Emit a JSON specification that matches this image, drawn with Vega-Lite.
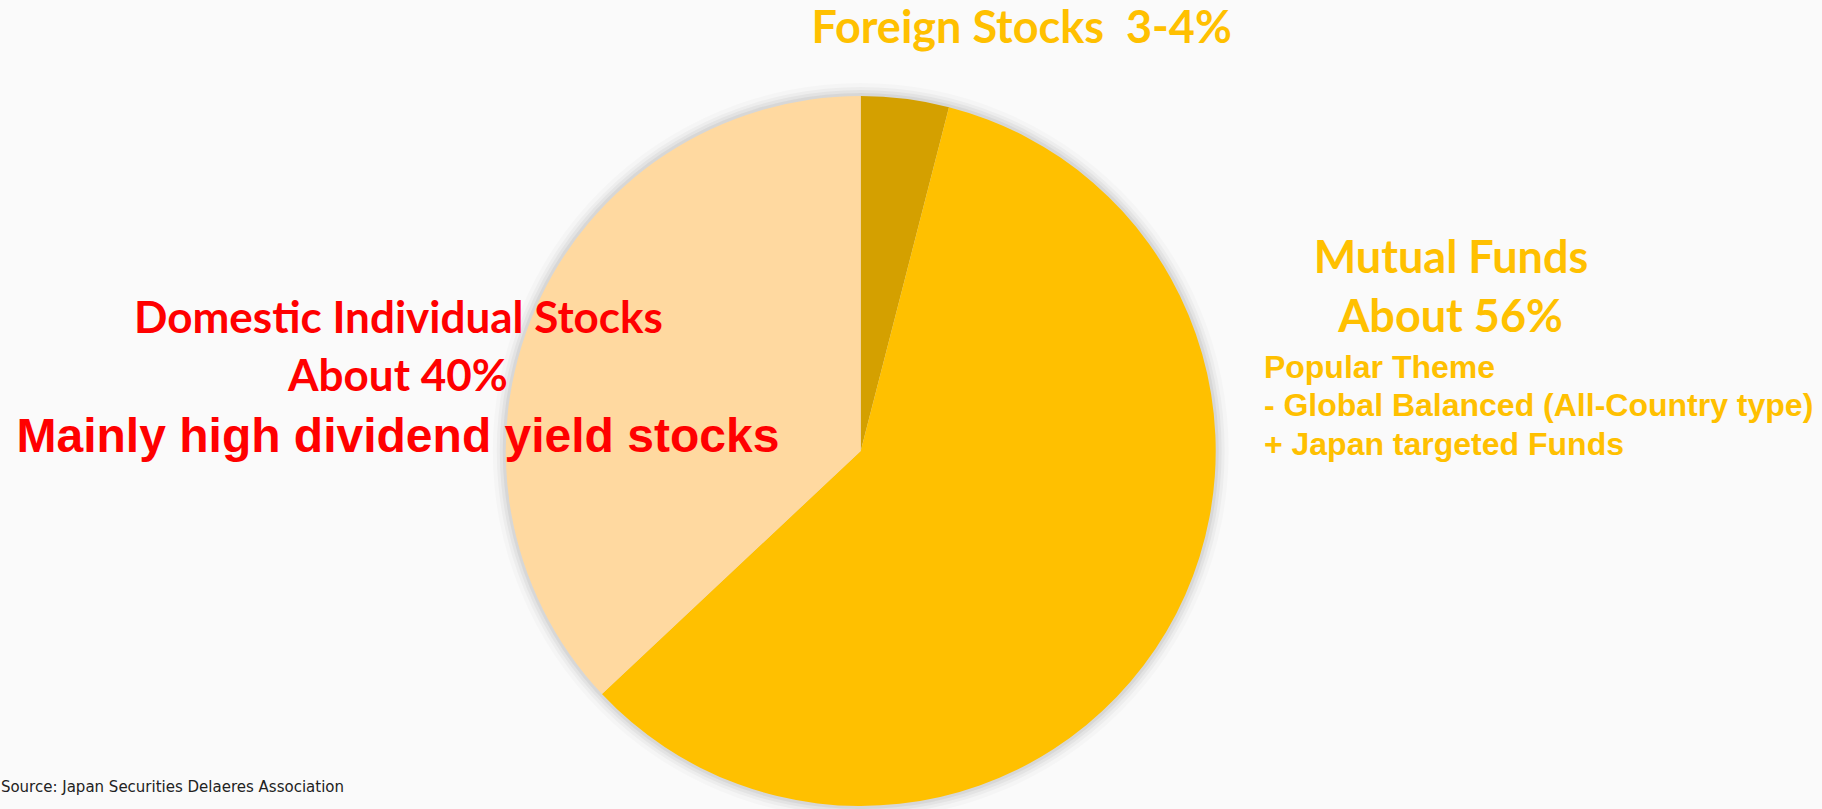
{
  "$schema": "https://vega.github.io/schema/vega-lite/v6.json",
  "width": 1822,
  "height": 809,
  "autosize": {"type": "none"},
  "padding": 0,
  "background": "#FAFAFA",
  "config": {"view": {"stroke": null}},
  "datasets": {
    "slices": [
      {"category": "Foreign Stocks", "share": 4.0, "order": 1},
      {"category": "Mutual Funds", "share": 59.0, "order": 2},
      {"category": "Domestic Individual Stocks", "share": 37.0, "order": 3}
    ],
    "labels": [
      {"block": "foreign", "kind": "title", "text": "Foreign Stocks\u00a0 3-4%", "x": 56.07, "y": 5.35},
      {"block": "mutual", "kind": "title", "text": "Mutual Funds", "x": 79.64, "y": 33.78},
      {"block": "mutual", "kind": "title", "text": "About 56%", "x": 79.61, "y": 41.0},
      {"block": "domestic", "kind": "title", "text": "Domestic Individual Stocks", "x": 21.87, "y": 41.2},
      {"block": "domestic", "kind": "title", "text": "About 40%", "x": 21.84, "y": 48.33},
      {"block": "mutual", "kind": "note", "text": "Popular Theme", "x": 69.37, "y": 46.76},
      {"block": "mutual", "kind": "note", "text": "- Global Balanced (All-Country type)", "x": 69.37, "y": 51.42},
      {"block": "mutual", "kind": "note", "text": "+ Japan targeted Funds", "x": 69.37, "y": 56.24},
      {"block": "domestic", "kind": "note", "text": "Mainly high dividend yield stocks", "x": 21.84, "y": 55.83},
      {"block": "source", "kind": "source", "text": "Source: Japan Securities Delaeres Association", "x": 0.05, "y": 97.86}
    ]
  },
  "layer": [
    {
      "data": {"name": "slices"},
      "transform": [{"aggregate": [{"op": "sum", "field": "share", "as": "total"}]}],
      "mark": {"type": "arc", "radius": 368, "color": "#000000", "opacity": 0.02},
      "encoding": {
        "theta": {"field": "total", "type": "quantitative"},
        "x": {"datum": 47.24, "type": "quantitative", "scale": {"domain": [0, 100], "nice": false, "zero": false}, "axis": null},
        "y": {"datum": 55.75, "type": "quantitative", "scale": {"domain": [0, 100], "nice": false, "zero": false, "reverse": true}, "axis": null}
      }
    },
    {
      "data": {"name": "slices"},
      "transform": [{"aggregate": [{"op": "sum", "field": "share", "as": "total"}]}],
      "mark": {"type": "arc", "radius": 364, "color": "#000000", "opacity": 0.03},
      "encoding": {
        "theta": {"field": "total", "type": "quantitative"},
        "x": {"datum": 47.24, "type": "quantitative"},
        "y": {"datum": 55.75, "type": "quantitative"}
      }
    },
    {
      "data": {"name": "slices"},
      "transform": [{"aggregate": [{"op": "sum", "field": "share", "as": "total"}]}],
      "mark": {"type": "arc", "radius": 361, "color": "#000000", "opacity": 0.04},
      "encoding": {
        "theta": {"field": "total", "type": "quantitative"},
        "x": {"datum": 47.24, "type": "quantitative"},
        "y": {"datum": 55.75, "type": "quantitative"}
      }
    },
    {
      "data": {"name": "slices"},
      "transform": [{"aggregate": [{"op": "sum", "field": "share", "as": "total"}]}],
      "mark": {"type": "arc", "radius": 358, "color": "#000000", "opacity": 0.05},
      "encoding": {
        "theta": {"field": "total", "type": "quantitative"},
        "x": {"datum": 47.24, "type": "quantitative"},
        "y": {"datum": 55.75, "type": "quantitative"}
      }
    },
    {
      "data": {"name": "slices"},
      "mark": {"type": "arc", "radius": 355},
      "encoding": {
        "theta": {"field": "share", "type": "quantitative", "stack": true},
        "order": {"field": "order", "type": "quantitative"},
        "color": {
          "field": "category",
          "type": "nominal",
          "scale": {
            "domain": ["Foreign Stocks", "Mutual Funds", "Domestic Individual Stocks"],
            "range": ["#D4A000", "#FFC000", "#FFD9A0"]
          },
          "legend": null
        },
        "x": {"datum": 47.24, "type": "quantitative"},
        "y": {"datum": 55.75, "type": "quantitative"}
      }
    },
    {
      "data": {"name": "labels"},
      "transform": [{"filter": "datum.kind === 'title' && datum.block !== 'domestic'"}],
      "mark": {"type": "text", "font": "Lato", "fontWeight": "bold", "fontSize": 45, "color": "#FFC000", "align": "center", "baseline": "alphabetic"},
      "encoding": {
        "x": {"field": "x", "type": "quantitative"},
        "y": {"field": "y", "type": "quantitative"},
        "text": {"field": "text"}
      }
    },
    {
      "data": {"name": "labels"},
      "transform": [{"filter": "datum.kind === 'title' && datum.block === 'domestic'"}],
      "mark": {"type": "text", "font": "Lato", "fontWeight": "bold", "fontSize": 44, "color": "#FF0000", "align": "center", "baseline": "alphabetic"},
      "encoding": {
        "x": {"field": "x", "type": "quantitative"},
        "y": {"field": "y", "type": "quantitative"},
        "text": {"field": "text"}
      }
    },
    {
      "data": {"name": "labels"},
      "transform": [{"filter": "datum.kind === 'note' && datum.block === 'mutual'"}],
      "mark": {"type": "text", "font": "Liberation Sans", "fontWeight": "bold", "fontSize": 32, "color": "#FFC000", "align": "left", "baseline": "alphabetic"},
      "encoding": {
        "x": {"field": "x", "type": "quantitative"},
        "y": {"field": "y", "type": "quantitative"},
        "text": {"field": "text"}
      }
    },
    {
      "data": {"name": "labels"},
      "transform": [{"filter": "datum.kind === 'note' && datum.block === 'domestic'"}],
      "mark": {"type": "text", "font": "Liberation Sans", "fontWeight": "bold", "fontSize": 48, "color": "#FF0000", "align": "center", "baseline": "alphabetic"},
      "encoding": {
        "x": {"field": "x", "type": "quantitative"},
        "y": {"field": "y", "type": "quantitative"},
        "text": {"field": "text"}
      }
    },
    {
      "data": {"name": "labels"},
      "transform": [{"filter": "datum.kind === 'source'"}],
      "mark": {"type": "text", "font": "DejaVu Sans", "fontSize": 15, "color": "#222222", "align": "left", "baseline": "alphabetic"},
      "encoding": {
        "x": {"field": "x", "type": "quantitative"},
        "y": {"field": "y", "type": "quantitative"},
        "text": {"field": "text"}
      }
    }
  ]
}
